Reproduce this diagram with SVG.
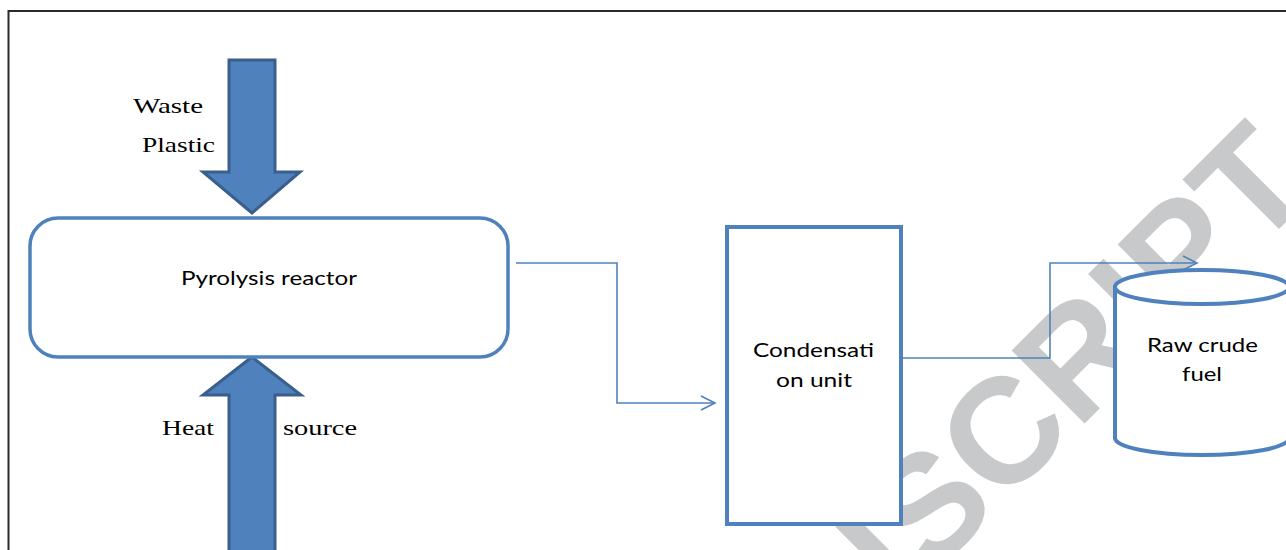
<svg xmlns="http://www.w3.org/2000/svg" width="1286" height="550" viewBox="0 0 1286 550">
  <style>
    .frame { fill: none; stroke: #2b2b2b; stroke-width: 2; }
    .box { fill: #ffffff; stroke: #4f81bd; }
    .bigarrow { fill: #4f81bd; stroke: #3a5f8d; stroke-width: 3; stroke-linejoin: miter; }
    .link { fill: none; stroke: #4f81bd; stroke-width: 1.6; }
    .serif { font-family: "Liberation Serif", "Times New Roman", serif; font-size: 22px; fill: #000; }
    .sans { font-family: Lato, "Open Sans", "Liberation Sans", sans-serif; font-size: 19.5px; fill: #000; }
    .stamp { font-family: "Liberation Sans", Arial, sans-serif; font-weight: bold; font-size: 150px; fill: #c8c9ca; }
  </style>
  <defs>
    <marker id="open-arrow" markerUnits="userSpaceOnUse" markerWidth="18" markerHeight="18" refX="15" refY="8" orient="auto">
      <path d="M1,1 L15,8 L1,15" fill="none" stroke="#4f81bd" stroke-width="1.6"/>
    </marker>
  </defs>

  <rect width="1286" height="550" fill="#ffffff"/>
  <path class="frame" d="M8.5,560 V11 H1300"/>

  <!-- background stamp -->
  <text class="stamp" transform="translate(612,896) rotate(-45)">MANUSCRIPT</text>

  <!-- input arrows -->
  <g id="waste-arrow">
    <polygon class="bigarrow" points="229,60 275,60 275,172 300,172 252,213 203,172 229,172"/>
    <text class="serif" x="133" y="113" textLength="70" lengthAdjust="spacingAndGlyphs">Waste</text>
    <text class="serif" x="142" y="152" textLength="73" lengthAdjust="spacingAndGlyphs">Plastic</text>
  </g>
  <g id="heat-arrow">
    <polygon class="bigarrow" points="252,357 301,395 275,395 275,560 229,560 229,395 203,395"/>
    <text class="serif" x="162" y="435" textLength="52" lengthAdjust="spacingAndGlyphs">Heat</text>
    <text class="serif" x="283" y="435" textLength="74" lengthAdjust="spacingAndGlyphs">source</text>
  </g>

  <!-- process nodes -->
  <g id="reactor">
    <rect class="box" x="30" y="218" width="478" height="139" rx="28" ry="28" stroke-width="3.5"/>
    <text class="sans" x="181" y="285" textLength="176" lengthAdjust="spacingAndGlyphs">Pyrolysis reactor</text>
  </g>
  <g id="condenser">
    <rect class="box" x="727" y="227" width="174" height="297" stroke-width="4"/>
    <text class="sans" x="753" y="357" textLength="121" lengthAdjust="spacingAndGlyphs">Condensati</text>
    <text class="sans" x="776" y="387" textLength="76" lengthAdjust="spacingAndGlyphs">on unit</text>
  </g>
  <g id="fuel-tank">
    <path class="box" d="M1115,287 V438 A87,17 0 0 0 1289,438 V287 Z" stroke-width="4"/>
    <ellipse class="box" cx="1202" cy="287" rx="87" ry="17" stroke-width="4"/>
    <text class="sans" x="1147" y="352" textLength="111" lengthAdjust="spacingAndGlyphs">Raw crude</text>
    <text class="sans" x="1182" y="381" textLength="40" lengthAdjust="spacingAndGlyphs">fuel</text>
  </g>

  <!-- connectors -->
  <g id="connectors">
    <polyline class="link" points="516,263 617,263 617,403 715,403" marker-end="url(#open-arrow)"/>
    <polyline class="link" points="903,358 1050,358 1050,263 1197,263" marker-end="url(#open-arrow)"/>
  </g>
</svg>
